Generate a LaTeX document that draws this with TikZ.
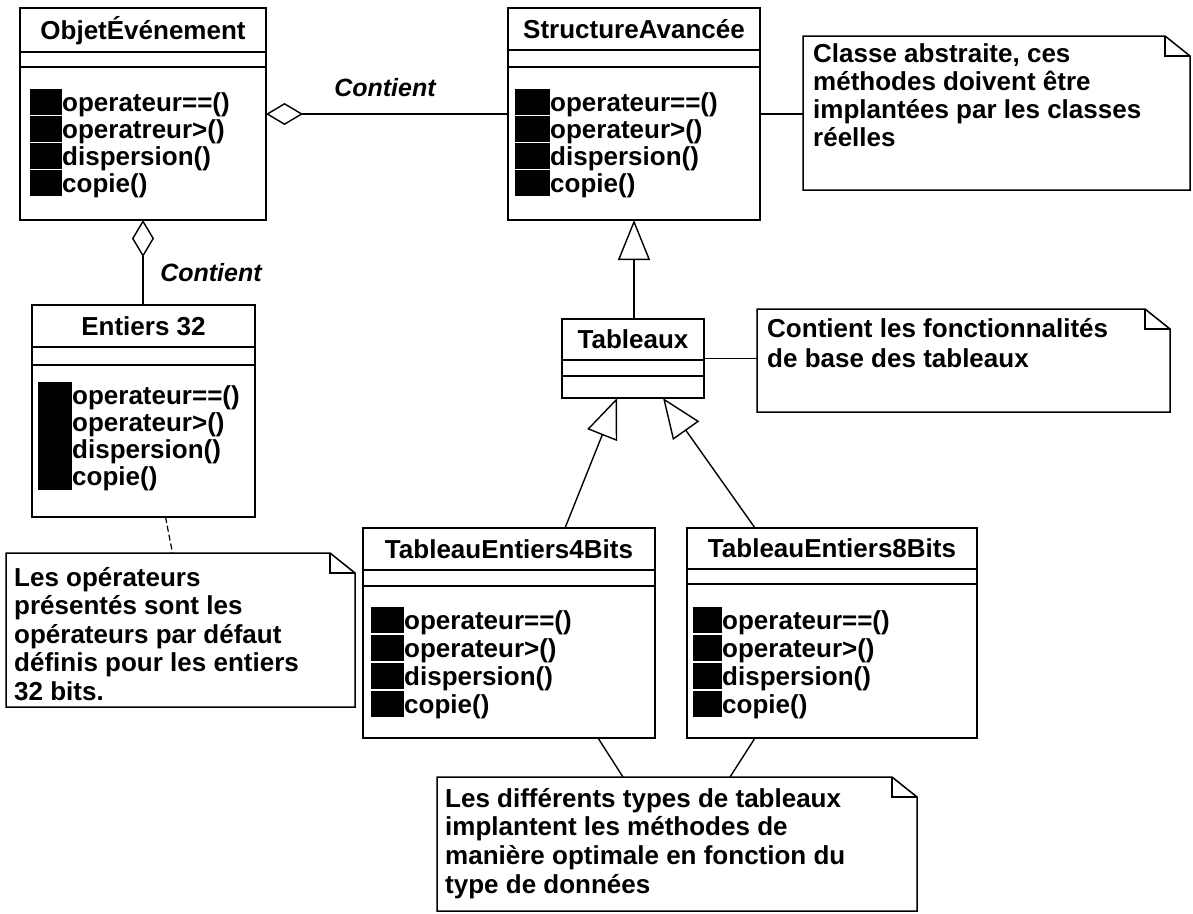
\documentclass[tikz,border=0pt]{standalone}
\usepackage{fontspec}
\setmainfont{Liberation Sans}
\usetikzlibrary{calc,arrows.meta}

% A UML class box: name, x, y (top left), width, height, first and second separator offsets, title
\newcommand{\umlclass}[8]{%
  \node[classbox, minimum width=#4pt, minimum height=#5pt] (#1) at (#2,#3) {};
  \draw[boxline] ($(#1.north west)+(0,#6)$) -- ($(#1.north east)+(0,#6)$);
  \draw[boxline] ($(#1.north west)+(0,#7)$) -- ($(#1.north east)+(0,#7)$);
  \pgfmathsetmacro{\titleoff}{#6/2+9}
  \node[titletext] (#1-title) at ($(#1.north)+(0,\titleoff)$) {#8};
}

% Operations of a class: name, marker x, marker width, first row centre, row pitch, list
\newcommand{\umlops}[6]{%
  \foreach \op [count=\i] in {#6} {
    \pgfmathsetmacro{\rowc}{#4+(\i-1)*#5}
    \pgfmathsetmacro{\rowtop}{\rowc-13}
    \pgfmathsetmacro{\rowbot}{\rowc+13}
    \pgfmathsetmacro{\rowbase}{\rowc+9}
    \pgfmathsetmacro{\txtx}{#2+#3}
    \fill[opblock] (#2,\rowtop) rectangle (\txtx,\rowbot);
    \node[optext] (#1-op\i) at (\txtx,\rowbase) {\op};
  }
}

% A UML note with a folded corner: name, x, y (top left), width, height
\newcommand{\umlnote}[5]{%
  \node[notebox, minimum width=#4pt, minimum height=#5pt] (#1) at (#2,#3) {};
  \draw[boxline] (#1.south west) -- (#1.north west) -- ($(#1.north east)+(-25,0)$)
    -- ($(#1.north east)+(0,20)$) -- (#1.south east) -- cycle;
  \draw[foldline] ($(#1.north east)+(-25,0)$) -- ($(#1.north east)+(-25,20)$)
    -- ($(#1.north east)+(0,20)$);
}

% Text lines of a note: name, x, first baseline, line pitch, lines
\newcommand{\notelines}[5]{%
  \foreach \txt [count=\i] in {#5} {
    \pgfmathsetmacro{\linebase}{#3+(\i-1)*#4}
    \node[notetext] (#1-l\i) at (#2,\linebase) {\txt};
  }
}

\begin{document}
\begin{tikzpicture}[x=1pt,y=-1pt,
  boxline/.style={line width=1.5pt, line join=miter},
  foldline/.style={line width=1.3pt},
  classbox/.style={draw, line width=1.5pt, rectangle, anchor=north west, inner sep=0pt, outer sep=0pt},
  notebox/.style={rectangle, anchor=north west, inner sep=0pt, outer sep=0pt},
  titletext/.style={font=\fontsize{26}{29}\selectfont\bfseries, anchor=base, inner sep=0pt},
  optext/.style={font=\fontsize{26}{29}\selectfont\bfseries, anchor=base west, inner sep=0pt},
  notetext/.style={font=\fontsize{26}{29}\selectfont\bfseries, anchor=base west, inner sep=0pt},
  rolelabel/.style={font=\fontsize{25}{29}\selectfont\bfseries\itshape, inner sep=0pt},
  opblock/.style={fill=black},
  link/.style={line width=1.4pt},
  anchorlink/.style={line width=1.2pt, dash pattern=on 6pt off 3pt},
  aggregation/.style={link, {Diamond[open, length=37pt, width=22pt, line width=1.4pt]}-},
  generalization/.style={link, -{Triangle[open, length=40pt, width=32pt, line width=1.4pt]}},
]
\fill[white] (0,0) rectangle (1193,913);
\useasboundingbox (0,0) rectangle (1193,913);

% Classes
\umlclass{objet}{20}{8}{246}{212}{44}{59}{ObjetÉvénement}
\umlops{objet}{30}{32}{102}{27}{operateur==(), operatreur>(), dispersion(), copie()}

\umlclass{struct}{508}{8}{252}{212}{42}{59}{StructureAvancée}
\umlops{struct}{515}{35}{102}{27}{operateur==(), operateur>(), dispersion(), copie()}

\umlclass{entiers}{32}{305}{223}{212}{42}{60}{Entiers 32}
\fill[opblock] (38,382) rectangle (72,490);
\umlops{entiers}{38}{34}{395}{27}{operateur==(), operateur>(), dispersion(), copie()}

\umlclass{tab}{562}{319}{142}{79}{41}{57}{Tableaux}

\umlclass{bitsfour}{363}{528}{292}{210}{42}{58}{TableauEntiers4Bits}
\umlops{bitsfour}{371}{33}{620}{28}{operateur==(), operateur>(), dispersion(), copie()}

\umlclass{bitseight}{687}{528}{290}{210}{41}{56}{TableauEntiers8Bits}
\umlops{bitseight}{693}{29}{620}{28}{operateur==(), operateur>(), dispersion(), copie()}

% Notes
\umlnote{note1}{803}{36}{387}{154}
\notelines{note1}{813}{62}{28}{{Classe abstraite, ces}, {méthodes doivent être}, {implantées par les classes}, {réelles}}

\umlnote{note2}{757}{309}{413}{103}
\notelines{note2}{767}{337}{30}{{Contient les fonctionnalités}, {de base des tableaux}}

\umlnote{note3}{6}{553}{349}{154}
\notelines{note3}{14}{586}{28.6}{{Les opérateurs}, {présentés sont les}, {opérateurs par défaut}, {définis pour les entiers}, {32 bits.}}

\umlnote{note4}{437}{777}{480}{134}
\notelines{note4}{445}{807}{28.7}{{Les différents types de tableaux}, {implantent les méthodes de}, {manière optimale en fonction du}, {type de données}}

% Aggregations
\draw[aggregation] (objet.east) -- (struct.west);
\node[rolelabel] (contient1) at (385,88) {Contient};
\draw[aggregation] (objet.south) -- (objet.south |- entiers.north);
\node[rolelabel] (contient2) at (211,273) {Contient};

% Generalizations
\draw[generalization] (struct.south |- tab.north) -- (struct.south);
\draw[generalization] ([xshift=56pt]bitsfour.north) -- ([xshift=-16pt]tab.south);
\draw[generalization] ([xshift=-77pt]bitseight.north) -- ([xshift=30pt]tab.south);

% Note attachments
\draw[link] (struct.east) -- (note1.west |- struct.east);
\draw[link] (tab.east) -- (note2.west |- tab.east);
\draw[anchorlink] ([xshift=22pt]entiers.south) -- ([xshift=-8pt]note3.north);
\draw[link] ([xshift=89pt]bitsfour.south) -- ([xshift=-54pt]note4.north);
\draw[link] ([xshift=-77pt]bitseight.south) -- ([xshift=53pt]note4.north);
\end{tikzpicture}
\end{document}
